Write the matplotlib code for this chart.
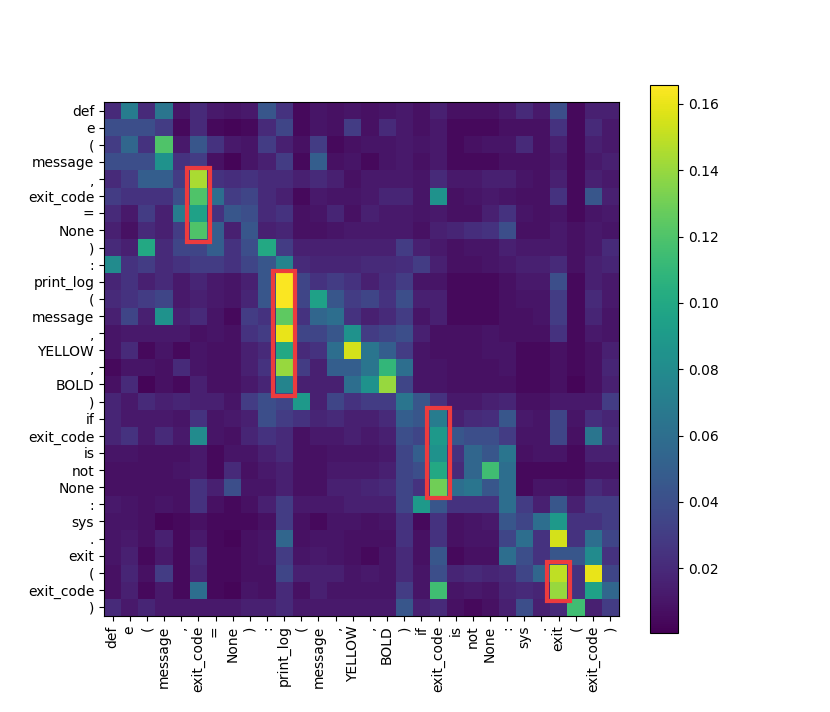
import numpy as np
import matplotlib
matplotlib.use("Agg")
import matplotlib.pyplot as plt
from matplotlib.patches import Rectangle

tokens = ["def", "e", "(", "message", ",", "exit_code", "=", "None", ")", ":",
          "print_log", "(", "message", ",", "YELLOW", ",", "BOLD", ")",
          "if", "exit_code", "is", "not", "None", ":", "sys", ".", "exit", "(",
          "exit_code", ")"]

r00 = [0.02, 0.07, 0.02, 0.065, 0.01, 0.02, 0.012, 0.01, 0.012, 0.045, 0.025, 0.005, 0.01, 0.008, 0.01, 0.008, 0.01, 0.012, 0.008, 0.015, 0.008, 0.008, 0.008, 0.012, 0.02, 0.012, 0.04, 0.005, 0.015, 0.015]
r01 = [0.04, 0.04, 0.04, 0.03, 0.005, 0.02, 0.005, 0.003, 0.005, 0.02, 0.035, 0.005, 0.01, 0.008, 0.03, 0.008, 0.02, 0.012, 0.008, 0.012, 0.005, 0.005, 0.005, 0.008, 0.008, 0.008, 0.025, 0.005, 0.02, 0.012]
r02 = [0.03, 0.055, 0.025, 0.12, 0.012, 0.045, 0.025, 0.012, 0.01, 0.03, 0.015, 0.008, 0.03, 0.005, 0.008, 0.01, 0.01, 0.012, 0.01, 0.012, 0.005, 0.008, 0.01, 0.01, 0.02, 0.008, 0.015, 0.005, 0.015, 0.012]
r03 = [0.04, 0.04, 0.04, 0.085, 0.025, 0.03, 0.008, 0.003, 0.01, 0.015, 0.03, 0.005, 0.05, 0.008, 0.01, 0.005, 0.01, 0.012, 0.008, 0.012, 0.005, 0.005, 0.005, 0.008, 0.008, 0.008, 0.012, 0.005, 0.012, 0.015]
r04 = [0.02, 0.03, 0.05, 0.05, 0.03, 0.145, 0.025, 0.022, 0.025, 0.02, 0.02, 0.015, 0.02, 0.015, 0.008, 0.012, 0.012, 0.012, 0.01, 0.02, 0.012, 0.012, 0.015, 0.015, 0.01, 0.008, 0.015, 0.005, 0.015, 0.012]
r05 = [0.03, 0.025, 0.025, 0.025, 0.04, 0.12, 0.06, 0.03, 0.035, 0.02, 0.015, 0.005, 0.012, 0.01, 0.01, 0.012, 0.018, 0.018, 0.01, 0.085, 0.008, 0.01, 0.012, 0.01, 0.008, 0.008, 0.025, 0.005, 0.045, 0.015]
r06 = [0.02, 0.012, 0.03, 0.015, 0.07, 0.095, 0.025, 0.045, 0.04, 0.02, 0.025, 0.008, 0.01, 0.018, 0.008, 0.015, 0.012, 0.012, 0.01, 0.012, 0.008, 0.008, 0.015, 0.025, 0.01, 0.008, 0.01, 0.005, 0.01, 0.012]
r07 = [0.015, 0.008, 0.02, 0.015, 0.03, 0.12, 0.05, 0.015, 0.045, 0.015, 0.018, 0.008, 0.008, 0.01, 0.012, 0.012, 0.012, 0.012, 0.008, 0.015, 0.018, 0.022, 0.025, 0.04, 0.008, 0.008, 0.012, 0.008, 0.012, 0.01]
r08 = [0.02, 0.015, 0.1, 0.02, 0.035, 0.035, 0.05, 0.025, 0.04, 0.1, 0.03, 0.015, 0.015, 0.015, 0.015, 0.015, 0.015, 0.03, 0.015, 0.012, 0.008, 0.01, 0.01, 0.015, 0.012, 0.012, 0.012, 0.008, 0.012, 0.02]
r09 = [0.08, 0.025, 0.03, 0.02, 0.025, 0.03, 0.03, 0.025, 0.035, 0.045, 0.075, 0.02, 0.018, 0.018, 0.018, 0.02, 0.02, 0.022, 0.03, 0.015, 0.008, 0.008, 0.01, 0.012, 0.015, 0.015, 0.02, 0.008, 0.015, 0.018]
r10 = [0.018, 0.025, 0.015, 0.02, 0.012, 0.018, 0.012, 0.01, 0.015, 0.045, 0.165, 0.035, 0.025, 0.03, 0.025, 0.015, 0.022, 0.03, 0.01, 0.01, 0.005, 0.005, 0.005, 0.008, 0.012, 0.012, 0.04, 0.005, 0.015, 0.012]
r11 = [0.02, 0.025, 0.03, 0.035, 0.012, 0.015, 0.012, 0.01, 0.018, 0.045, 0.165, 0.035, 0.095, 0.045, 0.03, 0.035, 0.025, 0.04, 0.015, 0.015, 0.005, 0.005, 0.005, 0.008, 0.01, 0.01, 0.03, 0.005, 0.02, 0.012]
r12 = [0.015, 0.035, 0.015, 0.085, 0.015, 0.02, 0.01, 0.005, 0.03, 0.025, 0.125, 0.025, 0.055, 0.06, 0.025, 0.015, 0.02, 0.03, 0.01, 0.015, 0.005, 0.005, 0.005, 0.008, 0.008, 0.01, 0.03, 0.005, 0.018, 0.01]
r13 = [0.01, 0.012, 0.012, 0.012, 0.012, 0.008, 0.01, 0.008, 0.025, 0.03, 0.16, 0.035, 0.035, 0.045, 0.085, 0.03, 0.035, 0.04, 0.015, 0.008, 0.008, 0.008, 0.01, 0.008, 0.008, 0.008, 0.025, 0.005, 0.012, 0.01]
r14 = [0.01, 0.02, 0.005, 0.01, 0.005, 0.01, 0.008, 0.008, 0.015, 0.02, 0.1, 0.02, 0.025, 0.06, 0.155, 0.065, 0.05, 0.03, 0.01, 0.008, 0.008, 0.008, 0.01, 0.01, 0.005, 0.005, 0.008, 0.005, 0.008, 0.015]
r15 = [0.005, 0.01, 0.01, 0.008, 0.02, 0.01, 0.008, 0.008, 0.015, 0.025, 0.14, 0.03, 0.015, 0.05, 0.05, 0.065, 0.11, 0.06, 0.01, 0.01, 0.008, 0.008, 0.008, 0.01, 0.005, 0.005, 0.008, 0.005, 0.008, 0.018]
r16 = [0.008, 0.02, 0.003, 0.008, 0.005, 0.015, 0.008, 0.008, 0.012, 0.018, 0.075, 0.015, 0.015, 0.015, 0.06, 0.085, 0.14, 0.035, 0.01, 0.01, 0.008, 0.008, 0.008, 0.008, 0.005, 0.005, 0.008, 0.003, 0.008, 0.015]
r17 = [0.018, 0.012, 0.02, 0.015, 0.018, 0.015, 0.015, 0.01, 0.03, 0.04, 0.035, 0.09, 0.015, 0.035, 0.025, 0.03, 0.03, 0.065, 0.045, 0.025, 0.012, 0.012, 0.015, 0.018, 0.008, 0.008, 0.012, 0.012, 0.012, 0.03]
r18 = [0.018, 0.012, 0.012, 0.012, 0.01, 0.025, 0.01, 0.012, 0.015, 0.04, 0.03, 0.025, 0.018, 0.02, 0.015, 0.015, 0.02, 0.05, 0.045, 0.07, 0.015, 0.02, 0.022, 0.045, 0.012, 0.01, 0.035, 0.01, 0.022, 0.018]
r19 = [0.018, 0.025, 0.012, 0.02, 0.012, 0.08, 0.01, 0.008, 0.018, 0.025, 0.02, 0.008, 0.012, 0.012, 0.015, 0.012, 0.015, 0.04, 0.035, 0.09, 0.045, 0.04, 0.04, 0.03, 0.01, 0.01, 0.035, 0.008, 0.065, 0.02]
r20 = [0.01, 0.01, 0.008, 0.008, 0.008, 0.012, 0.005, 0.01, 0.01, 0.015, 0.02, 0.008, 0.008, 0.01, 0.01, 0.01, 0.012, 0.035, 0.05, 0.085, 0.025, 0.055, 0.045, 0.065, 0.008, 0.01, 0.01, 0.005, 0.015, 0.015]
r21 = [0.008, 0.008, 0.008, 0.008, 0.01, 0.012, 0.005, 0.02, 0.008, 0.012, 0.015, 0.008, 0.008, 0.012, 0.012, 0.012, 0.015, 0.035, 0.04, 0.1, 0.02, 0.055, 0.115, 0.06, 0.005, 0.005, 0.005, 0.005, 0.01, 0.01]
r22 = [0.008, 0.008, 0.008, 0.008, 0.008, 0.025, 0.015, 0.04, 0.01, 0.01, 0.015, 0.008, 0.008, 0.015, 0.015, 0.018, 0.02, 0.035, 0.025, 0.13, 0.06, 0.065, 0.045, 0.06, 0.005, 0.01, 0.01, 0.008, 0.02, 0.015]
r23 = [0.012, 0.01, 0.008, 0.01, 0.008, 0.025, 0.008, 0.005, 0.008, 0.015, 0.03, 0.012, 0.012, 0.012, 0.015, 0.015, 0.015, 0.035, 0.09, 0.045, 0.025, 0.025, 0.025, 0.06, 0.03, 0.015, 0.045, 0.015, 0.03, 0.03]
r24 = [0.01, 0.01, 0.008, 0.003, 0.005, 0.008, 0.005, 0.005, 0.005, 0.008, 0.03, 0.008, 0.005, 0.01, 0.01, 0.008, 0.01, 0.025, 0.005, 0.025, 0.008, 0.01, 0.012, 0.045, 0.035, 0.06, 0.09, 0.025, 0.025, 0.03]
r25 = [0.01, 0.012, 0.008, 0.015, 0.005, 0.012, 0.005, 0.003, 0.008, 0.01, 0.055, 0.008, 0.01, 0.01, 0.008, 0.008, 0.008, 0.025, 0.008, 0.025, 0.008, 0.01, 0.01, 0.035, 0.06, 0.025, 0.155, 0.025, 0.06, 0.035]
r26 = [0.01, 0.015, 0.005, 0.012, 0.005, 0.02, 0.005, 0.005, 0.008, 0.01, 0.03, 0.01, 0.012, 0.01, 0.008, 0.005, 0.01, 0.02, 0.008, 0.045, 0.005, 0.008, 0.008, 0.06, 0.04, 0.025, 0.045, 0.045, 0.08, 0.025]
r27 = [0.008, 0.018, 0.008, 0.03, 0.005, 0.018, 0.005, 0.005, 0.008, 0.008, 0.035, 0.015, 0.015, 0.015, 0.01, 0.012, 0.01, 0.02, 0.01, 0.04, 0.018, 0.02, 0.018, 0.02, 0.035, 0.055, 0.15, 0.025, 0.16, 0.035]
r28 = [0.008, 0.015, 0.005, 0.012, 0.005, 0.06, 0.005, 0.003, 0.01, 0.008, 0.02, 0.008, 0.015, 0.01, 0.01, 0.01, 0.01, 0.03, 0.01, 0.115, 0.01, 0.012, 0.01, 0.018, 0.02, 0.018, 0.14, 0.025, 0.095, 0.055]
r29 = [0.02, 0.012, 0.018, 0.012, 0.012, 0.012, 0.012, 0.012, 0.015, 0.015, 0.02, 0.012, 0.012, 0.012, 0.012, 0.012, 0.012, 0.045, 0.015, 0.02, 0.008, 0.005, 0.008, 0.015, 0.04, 0.015, 0.02, 0.115, 0.015, 0.03]

attention = np.array([r00, r01, r02, r03, r04, r05, r06, r07, r08, r09,
                      r10, r11, r12, r13, r14, r15, r16, r17, r18, r19,
                      r20, r21, r22, r23, r24, r25, r26, r27, r28, r29])

# highlighted regions: (column, first row, last row)
highlights = [(5, 4, 7), (10, 10, 16), (19, 18, 22), (26, 27, 28)]

fig = plt.figure(figsize=(8.3, 7.12), dpi=100)
ax = fig.add_axes([0.1253, 0.1353, 0.6201, 0.7215])
cax = fig.add_axes([0.7831, 0.1114, 0.0341, 0.7692])

im = ax.imshow(attention, cmap="viridis", vmin=0.0006, vmax=0.1657,
               aspect="auto", interpolation="nearest")

ax.set_xticks(np.arange(len(tokens)))
ax.set_yticks(np.arange(len(tokens)))
ax.set_xticklabels(tokens, rotation=90, fontsize=10)
ax.set_yticklabels(tokens, fontsize=10)

pad = 0.15
for col, r0, r1 in highlights:
    ax.add_patch(Rectangle((col - 0.5 - pad, r0 - 0.5 - pad), 1 + 2 * pad,
                           (r1 - r0 + 1) + 2 * pad, fill=False,
                           edgecolor="#ec3b3e", linewidth=3, zorder=5))

cb = fig.colorbar(im, cax=cax)
cb.set_ticks([0.02, 0.04, 0.06, 0.08, 0.10, 0.12, 0.14, 0.16])
cb.ax.tick_params(labelsize=10)

fig.savefig("out.png", dpi=100)
